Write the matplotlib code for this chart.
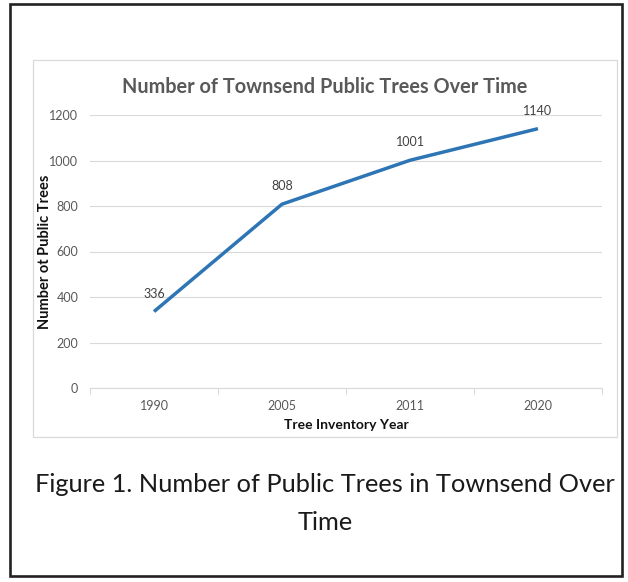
import matplotlib
matplotlib.use("Agg")
import matplotlib.pyplot as plt
from matplotlib.patches import Rectangle
from matplotlib.ticker import FixedLocator

plt.rcParams['font.family'] = ['Lato', 'DejaVu Sans']

# data
years = ['1990', '2005', '2011', '2020']
trees = [336, 808, 1001, 1140]
y_ticks = [0, 200, 400, 600, 800, 1000, 1200]

W, H = 628, 582
fig = plt.figure(figsize=(W / 100, H / 100), dpi=100)


def fx(px):
    return px / W


def fy(py):
    return 1 - py / H


# outer black frame and light chart-area box
fig.patches.append(Rectangle((fx(10), fy(576)), fx(612), (576 - 4) / H,
                             transform=fig.transFigure, fill=False,
                             edgecolor='#222222', linewidth=1.9))
fig.patches.append(Rectangle((fx(33), fy(437)), fx(584), (437 - 60) / H,
                             transform=fig.transFigure, fill=False,
                             edgecolor='#d9d9d9', linewidth=0.9))

ax = fig.add_axes([fx(90), fy(388), fx(512), (388 - 115) / H])
x = list(range(len(years)))
ax.plot(x, trees, color='#2e75b6', linewidth=2.5, solid_capstyle='butt')

for xi, v in zip(x, trees):
    ax.annotate(str(v), (xi, v), xytext=(0, 13), textcoords='offset points',
                ha='center', va='center', fontsize=9, color='#404040',
                annotation_clip=False)

ax.set_xlim(-0.5, len(years) - 0.5)
ax.set_ylim(0, 1200)
ax.set_yticks(y_ticks)
ax.set_xticks(x)
ax.set_xticklabels(years)
ax.xaxis.set_minor_locator(FixedLocator([i - 0.5 for i in range(len(years) + 1)]))

ax.grid(axis='y', color='#d9d9d9', linewidth=0.8)
ax.set_axisbelow(True)
for s in ['top', 'right', 'left']:
    ax.spines[s].set_visible(False)
ax.spines['bottom'].set_color('#d9d9d9')
ax.spines['bottom'].set_linewidth(0.8)

ax.tick_params(axis='y', length=0, pad=8.5, labelsize=9, labelcolor='#595959')
ax.tick_params(axis='x', which='major', length=0, pad=9, labelsize=9,
               labelcolor='#595959')
ax.tick_params(axis='x', which='minor', length=4, color='#d9d9d9', width=0.8)

ax.set_xlabel('Tree Inventory Year', fontsize=10, fontweight='bold',
              color='#111111', va='center')
ax.xaxis.set_label_coords(0.5, -37 / 273)
ax.set_ylabel('Number ot Public Trees', fontsize=10.5, fontweight='bold',
              color='#111111', va='center')
ax.yaxis.set_label_coords(-45 / 512, 0.5)

fig.text(fx(325), fy(87), 'Number of Townsend Public Trees Over Time',
         ha='center', va='center', fontsize=14.3, fontweight='bold',
         color='#595959')

fig.text(fx(325), fy(485), 'Figure 1. Number of Public Trees in Townsend Over',
         ha='center', va='center', fontsize=18.3, color='#1a1a1a')
fig.text(fx(325), fy(522), 'Time', ha='center', va='center', fontsize=18.3,
         color='#1a1a1a')

fig.savefig('out.png', dpi=100)
